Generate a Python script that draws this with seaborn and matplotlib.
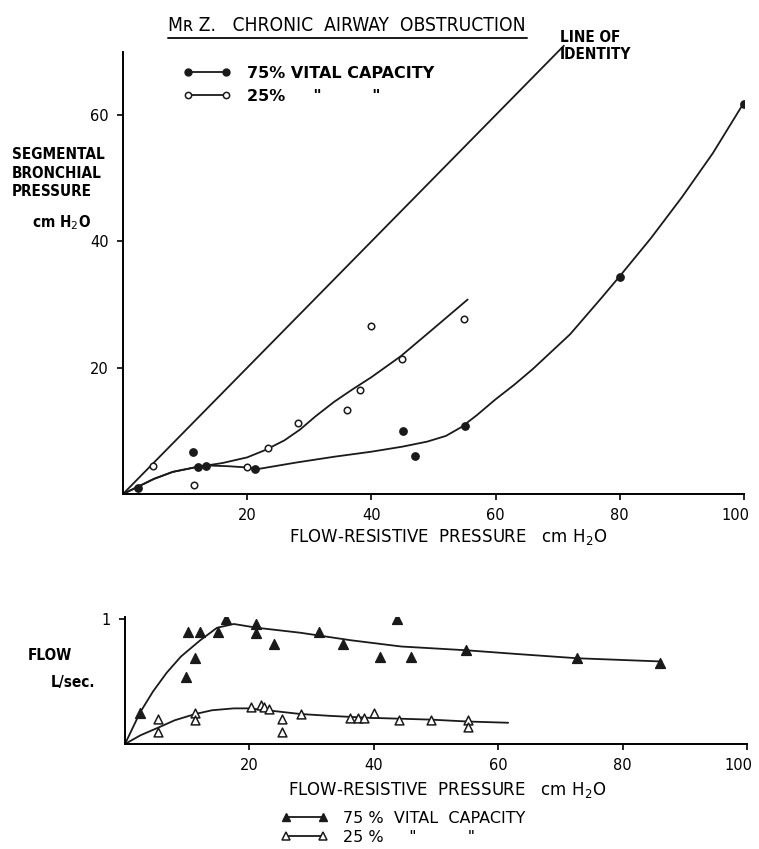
import matplotlib
matplotlib.use("Agg")
import matplotlib.pyplot as plt
import matplotlib.transforms as mtransforms
import seaborn as sns
from matplotlib.lines import Line2D

# ---------- top panel: segmental bronchial pressure vs flow-resistive pressure ----------
frp_75 = [2.4, 11.2, 12.1, 13.3, 21.3, 45.1, 47.0, 55.1, 80.0, 100.0]
sbp_75 = [0.9, 6.7, 4.3, 4.5, 3.9, 10.0, 6.0, 10.7, 34.3, 61.7]

frp_25 = [4.8, 11.5, 19.9, 23.4, 28.2, 36.1, 38.1, 39.9, 45.0, 54.9]
sbp_25 = [4.5, 1.4, 4.3, 7.3, 11.3, 13.3, 16.4, 26.6, 21.4, 27.7]

# hand-drawn curves
curve75_x = [0, 2.5, 5, 8, 12, 14, 17, 20, 22, 28, 34, 40, 45, 49, 52, 54.5, 57, 60, 63, 66, 72, 77, 80, 85, 90, 95, 100]
curve75_y = [0, 1.2, 2.4, 3.5, 4.3, 4.5, 4.4, 4.2, 4.0, 5.0, 5.9, 6.7, 7.5, 8.3, 9.2, 10.6, 12.5, 15.0, 17.3, 19.8, 25.3, 31.0, 34.5, 40.5, 47.0, 54.0, 62.0]
curve25_x = [0, 2.5, 5, 8, 12, 16, 20, 23, 26, 28.5, 31, 34, 37, 40, 44.7, 50, 55.5]
curve25_y = [0, 1.2, 2.4, 3.5, 4.3, 4.9, 5.8, 7.0, 8.5, 10.2, 12.3, 14.6, 16.6, 18.5, 21.8, 26.2, 30.8]
identity = [0, 71]

# ---------- bottom panel: flow vs flow-resistive pressure ----------
flow75_x = [2.4, 9.8, 10.2, 11.3, 12.0, 15.0, 16.2, 21.1, 21.1, 24.0, 31.2, 35.0, 41.0, 43.7, 46.0, 54.8, 72.7, 86.0]
flow75_y = [0.25, 0.54, 0.90, 0.69, 0.90, 0.90, 1.0, 0.96, 0.89, 0.80, 0.90, 0.80, 0.70, 1.0, 0.70, 0.75, 0.69, 0.65]

flow25_x = [5.3, 5.3, 11.3, 11.3, 20.2, 21.9, 22.3, 23.2, 25.3, 25.3, 28.3, 36.2, 37.4, 38.5, 40.0, 44.0, 49.2, 55.1, 55.2]
flow25_y = [0.20, 0.10, 0.25, 0.19, 0.30, 0.31, 0.30, 0.28, 0.20, 0.10, 0.24, 0.21, 0.21, 0.21, 0.25, 0.19, 0.19, 0.19, 0.14]

fcurve75_x = [0, 2.4, 4.5, 6.7, 9, 12.1, 14.8, 17.5, 21.2, 28.2, 36.3, 44.4, 54.8, 63, 72.7, 86.3]
fcurve75_y = [0, 0.25, 0.42, 0.57, 0.70, 0.83, 0.93, 0.96, 0.93, 0.89, 0.83, 0.78, 0.75, 0.72, 0.686, 0.66]
fcurve25_x = [0, 2.5, 5.3, 8, 11.3, 14, 17.5, 20, 22.8, 28.2, 33, 39, 49.2, 55, 61.6]
fcurve25_y = [0, 0.07, 0.13, 0.19, 0.24, 0.27, 0.285, 0.285, 0.27, 0.24, 0.225, 0.21, 0.195, 0.18, 0.17]

top_xticks = [20, 40, 60, 80, 100]
top_yticks = [20, 40, 60]
bot_xticks = [20, 40, 60, 80, 100]
bot_yticks = [1]

sns.set_theme(style="ticks")
plt.rcParams['font.family'] = ['DejaVu Sans']
plt.rcParams['axes.linewidth'] = 1.4
plt.rcParams['text.color'] = 'black'
plt.rcParams['axes.labelcolor'] = 'black'
plt.rcParams['axes.edgecolor'] = 'black'
plt.rcParams['xtick.color'] = 'black'
plt.rcParams['ytick.color'] = 'black'

W, H = 759, 849
fig = plt.figure(figsize=(W / 100, H / 100), dpi=100)

LW = 1.3
cond = dict(fontstretch='condensed')

# ---------- top panel ----------
ax1 = fig.add_axes([123 / W, 1 - 494 / H, 621 / W, 442 / H])
sns.lineplot(x=identity, y=identity, ax=ax1, color='k', lw=LW, sort=False, estimator=None)
ax1.lines[-1].set_clip_on(False)
sns.lineplot(x=curve75_x, y=curve75_y, ax=ax1, color='k', lw=LW, sort=False, estimator=None)
sns.lineplot(x=curve25_x, y=curve25_y, ax=ax1, color='k', lw=LW, sort=False, estimator=None)
sns.scatterplot(x=frp_75, y=sbp_75, ax=ax1, color='k', edgecolor='k', s=28, linewidth=1, zorder=3)
sns.scatterplot(x=frp_25, y=sbp_25, ax=ax1, color='white', edgecolor='k', s=22, linewidth=1.1, zorder=3)

ax1.set_xlim(0, 100)
ax1.set_ylim(0, 70)
ax1.set_xticks(top_xticks)
ax1.set_yticks(top_yticks)
ax1.tick_params(direction='out', length=4, width=1.2, labelsize=10.5, pad=6)
sns.despine(ax=ax1)
ax1.set_xlabel("FLOW-RESISTIVE  PRESSURE   cm H$_2$O", fontsize=12)
ax1.xaxis.set_label_coords((448 - 123) / 621, (494 - 527) / 442)
ax1.xaxis.label.set_va('top')
ax1.set_ylabel("")
ax1.text(70.4, 73.5, "LINE OF\nIDENTITY", fontsize=11, fontweight='bold', va='top', ha='left',
         linespacing=1.15, **cond)

# ---------- bottom panel ----------
ax2 = fig.add_axes([125 / W, 1 - 744 / H, 622 / W, 127.5 / H])
sns.lineplot(x=fcurve75_x, y=fcurve75_y, ax=ax2, color='k', lw=LW, sort=False, estimator=None)
sns.lineplot(x=fcurve25_x, y=fcurve25_y, ax=ax2, color='k', lw=LW, sort=False, estimator=None)
sns.scatterplot(x=flow75_x, y=flow75_y, ax=ax2, marker='^', color='k', edgecolor='k', s=50, linewidth=1, zorder=3)
sns.scatterplot(x=flow25_x, y=flow25_y, ax=ax2, marker='^', color='white', edgecolor='k', s=40, linewidth=1.1, zorder=3)

ax2.set_xlim(0, 100)
ax2.set_ylim(0, 1.02)
ax2.set_xticks(bot_xticks)
ax2.set_yticks(bot_yticks)
ax2.tick_params(direction='out', length=4, width=1.2, labelsize=10.5, pad=6)
sns.despine(ax=ax2)
ax2.set_xlabel("FLOW-RESISTIVE  PRESSURE   cm H$_2$O", fontsize=12)
ax2.xaxis.set_label_coords((447 - 125) / 622, (744 - 780) / 127.5)
ax2.xaxis.label.set_va('top')
ax2.set_ylabel("")

# keep the "100" labels inside the canvas
for ax in (ax1, ax2):
    lab = ax.get_xticklabels()[-1]
    lab.set_transform(lab.get_transform() + mtransforms.ScaledTranslation(-6 / 72, 0, fig.dpi_scale_trans))

# ---------- title and side labels ----------
fig.text(168 / W, 1 - 31 / H, "Mʀ Z.   CHRONIC  AIRWAY  OBSTRUCTION", fontsize=13.8, va='baseline', **cond)
fig.add_artist(Line2D([168 / W, 527 / W], [1 - 38 / H, 1 - 38 / H], transform=fig.transFigure, color='k', lw=1.4))

fig.text(12 / W, 1 - 147 / H, "SEGMENTAL\nBRONCHIAL\nPRESSURE", fontsize=11, fontweight='bold',
         va='top', ha='left', linespacing=1.3, **cond)
fig.text(32 / W, 1 - 223 / H, "cm H$_2$O", fontsize=11, fontweight='bold', va='center', ha='left', **cond)
fig.text(28 / W, 1 - 655 / H, "FLOW", fontsize=11, fontweight='bold', va='center', ha='left', **cond)
fig.text(51 / W, 1 - 683 / H, "L/sec.", fontsize=11, fontweight='bold', va='center', ha='left', **cond)

# ---------- legends ----------
top_handles = [
    Line2D([0], [0], color='k', lw=LW, marker='o', ms=5, mfc='k', mec='k'),
    Line2D([0], [0], color='k', lw=LW, marker='o', ms=4.5, mfc='white', mec='k', mew=1.1),
]
fig.legend(handles=top_handles, labels=["75% VITAL CAPACITY", '25%     "         "'],
           numpoints=2, frameon=False, loc='upper left', bbox_to_anchor=(183 / W, 1 - 66 / H),
           bbox_transform=fig.transFigure, handlelength=3.0, handletextpad=1.0, labelspacing=0.5,
           borderpad=0, borderaxespad=0, prop=dict(size=11.5, weight='bold'))

bot_handles = [
    Line2D([0], [0], color='k', lw=LW, marker='^', ms=6, mfc='k', mec='k'),
    Line2D([0], [0], color='k', lw=LW, marker='^', ms=5.5, mfc='white', mec='k', mew=1.1),
]
fig.legend(handles=bot_handles, labels=["75 %  VITAL  CAPACITY", '25 %     "          "'],
           numpoints=2, frameon=False, loc='upper left', bbox_to_anchor=(281 / W, 1 - 811 / H),
           bbox_transform=fig.transFigure, handlelength=2.9, handletextpad=1.0, labelspacing=0.25,
           borderpad=0, borderaxespad=0, prop=dict(size=11.5))

fig.savefig("out.png", dpi=100)
